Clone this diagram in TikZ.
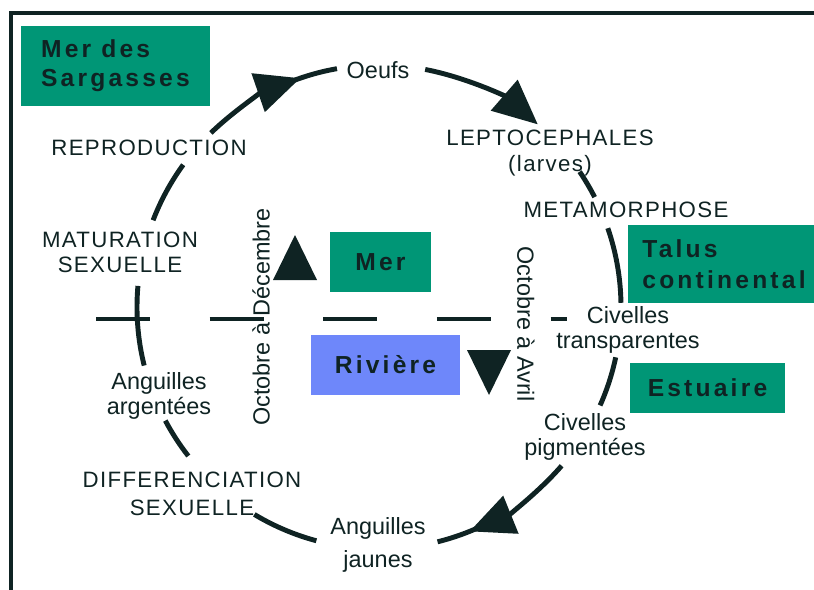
\documentclass[tikz,border=0pt]{standalone}
\usepackage{fontspec}
\setmainfont{Liberation Sans}
\newfontfamily\capsfont[LetterSpace=6]{Liberation Sans}
\newfontfamily\boxfont[LetterSpace=13]{Liberation Sans}
\usetikzlibrary{arrows.meta}
\definecolor{encre}{RGB}{15,35,35}
\definecolor{sargasse}{RGB}{0,150,118}
\definecolor{riviere}{RGB}{110,135,250}
\tikzset{
  lbl/.style={font=\fontsize{20}{21.5}\selectfont,text=encre,align=center,inner sep=0pt},
  stage/.style={lbl,font=\capsfont\fontsize{19}{21.5}\selectfont},
  zone/.style={fill=#1,inner sep=0pt,text=encre,align=left,
    font=\boxfont\bfseries\fontsize{21}{25}\selectfont},
  ring/.style={draw=encre,line width=4.2pt},
  bigtip/.style={-{Triangle[length=38pt,width=34pt]}}
}
\begin{document}
\begin{tikzpicture}[x=0.03cm,y=-0.03cm]
  \useasboundingbox (0,0) rectangle (814,590);
  \draw[encre,line width=3pt] (11,590) -- (11,13) -- (814,13);
  \node[zone=sargasse,minimum width=5.67cm,minimum height=2.4cm] (sargasses) at (115.5,66) {Mer des\\Sargasses};
  \node[zone=sargasse,minimum width=3.03cm,minimum height=1.8cm] (mer) at (380.5,262) {Mer};
  \node[zone=sargasse,minimum width=5.76cm,minimum height=2.34cm] (talus) at (724,264) {Talus\\[1pt]continental};
  \node[zone=sargasse,minimum width=4.65cm,minimum height=1.5cm] (estuaire) at (707.5,388) {Estuaire};
  \node[zone=riviere,minimum width=4.47cm,minimum height=1.8cm] (riviere) at (385.5,365) {Rivière};
  \node[lbl] (oeufs) at (378,70) {Oeufs};
  \node[stage] (lepto) at (550,153) {LEPTOCEPHALES\\(larves)};
  \node[stage] (metamorphose) at (626,210) {METAMORPHOSE};
  \node[lbl] (transparentes) at (628,330) {Civelles\\transparentes};
  \node[lbl] (pigmentees) at (585,437) {Civelles\\pigmentées};
  \node[lbl] (jaunes) at (378,545) {Anguilles\\[6pt]jaunes};
  \node[stage] (differenciation) at (192,494) {DIFFERENCIATION\\[2pt]SEXUELLE};
  \node[lbl] (argentees) at (159,396) {Anguilles\\argentées};
  \node[stage] (maturation) at (120,252) {MATURATION\\SEXUELLE};
  \node[stage] (reproduction) at (149,148) {REPRODUCTION};
  \node[lbl,rotate=90] (descente) at (261,317) {Octobre à Décembre};
  \node[lbl,rotate=-90] (montee) at (526,324) {Octobre à Avril};
  \fill[encre] (273,280) -- (295,235) -- (317,280) -- cycle;
  \fill[encre] (467,350) -- (511,350) -- (489,395) -- cycle;
  \coordinate (c) at (379,307);
  \coordinate (ouest) at (96,319);
  \coordinate (est) at (567,319);
  \draw[ring,dash pattern=on 46pt off 51pt] (ouest) -- (est);
  \begin{scope}[ring]
    \draw ([shift={(201:242)}]c) arc[start angle=201,end angle=216,radius=242];
    \draw[bigtip] ([shift={(226:242)}]c) arc[start angle=226,end angle=251,radius=242];
    \draw ([shift={(248:242)}]c) arc[start angle=248,end angle=260,radius=242];
    \draw[bigtip] ([shift={(281:242)}]c) arc[start angle=281,end angle=311,radius=242];
    \draw ([shift={(326:242)}]c) arc[start angle=326,end angle=333,radius=242];
    \draw ([shift={(341:242)}]c) arc[start angle=341,end angle=359,radius=242];
    \draw ([shift={(12:242)}]c) arc[start angle=12,end angle=24,radius=242];
    \draw[bigtip] ([shift={(41:242)}]c) arc[start angle=41,end angle=68,radius=242];
    \draw ([shift={(65:242)}]c) arc[start angle=65,end angle=76,radius=242];
    \draw ([shift={(105:242)}]c) arc[start angle=105,end angle=121,radius=242];
    \draw ([shift={(142:242)}]c) arc[start angle=142,end angle=152,radius=242];
    \draw ([shift={(166:242)}]c) arc[start angle=166,end angle=185,radius=242];
  \end{scope}
\end{tikzpicture}
\end{document}
